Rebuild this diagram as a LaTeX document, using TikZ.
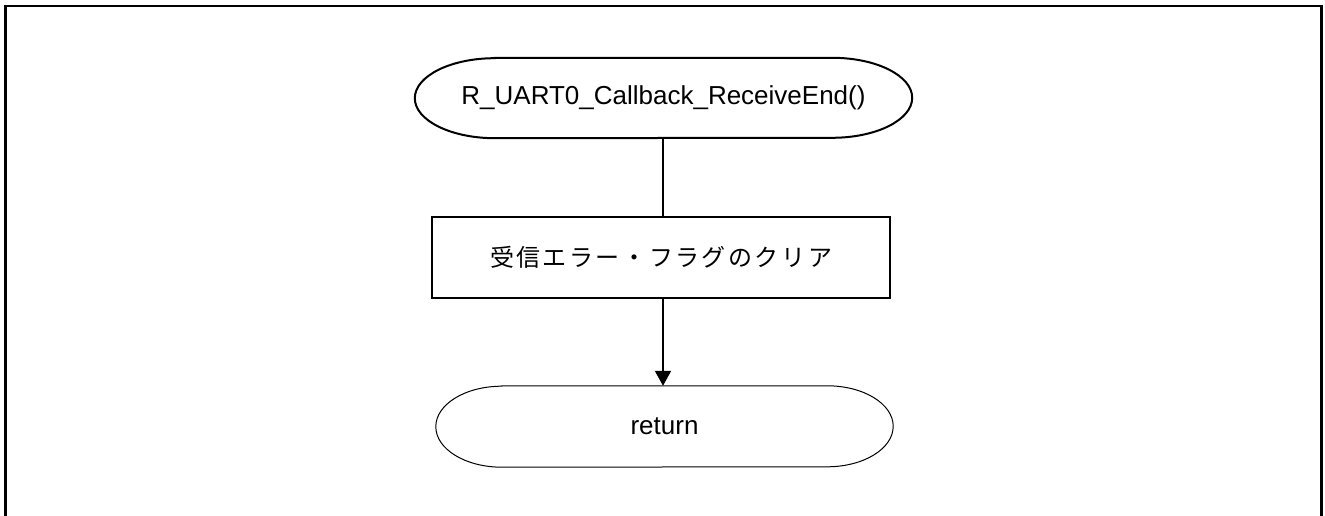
\documentclass[tikz,border=0pt]{standalone}
\usepackage{fontspec}
\setmainfont{Liberation Sans}
\newfontfamily\jpfont{Noto Sans CJK JP}
\newcommand\jc[1]{\makebox[26.5pt]{#1}}
\usetikzlibrary{arrows.meta}
\tikzset{
  terminal/.style={draw=none, minimum width=#1, minimum height=80pt, inner sep=0pt,
    font=\fontsize{26}{30}\selectfont},
  procbox/.style={draw, line width=1.8pt, minimum width=458pt, minimum height=81pt, inner sep=0pt,
    font=\jpfont\fontsize{24}{28}\selectfont},
  conn/.style={line width=2pt},
  frame/.style={line width=2.5pt},
}
\newcommand\stadium[4]{% name, rx, ry, linewidth
  \draw[line width=#4] ([xshift=#2]#1.north west) -- ([xshift=-#2]#1.north east)
    arc[start angle=90, end angle=-90, x radius=#2, y radius=#3]
    -- ([xshift=#2]#1.south west)
    arc[start angle=270, end angle=90, x radius=#2, y radius=#3] -- cycle;}
\begin{document}
\begin{tikzpicture}[x=1pt,y=1pt]
\clip (0,0) rectangle (1325,516);
\draw[frame] (5.5,-20) -- (5.5,510) -- (1321.5,510) -- (1321.5,-20);
\node[terminal=497pt] (start) at (663.5,418) {R\_UART0\_Callback\_ReceiveEnd()};
\stadium{start}{80pt}{40pt}{2pt}
\node[procbox] (proc) at (661,258.5) {\jc{受}\jc{信}\jc{エ}\jc{ラ}\jc{ー}\jc{・}\jc{フ}\jc{ラ}\jc{グ}\jc{の}\jc{ク}\jc{リ}\jc{ア}};
\node[terminal=457pt, minimum height=81pt] (ret) at (664.5,89.5) {return};
\stadium{ret}{66pt}{40.5pt}{1pt}
\draw[conn] (start.south -| 663,0) -- (proc.north -| 663,0);
\draw[conn, -{Triangle[length=15pt,width=16pt]}] (proc.south -| 663,0) -- (ret.north -| 663,0);
\end{tikzpicture}
\end{document}
